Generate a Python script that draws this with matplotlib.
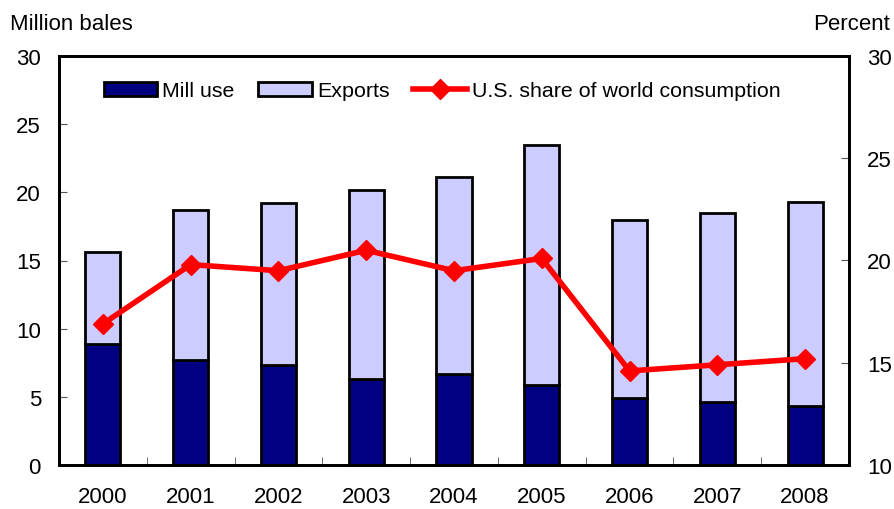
import numpy as np
import matplotlib.pyplot as plt

plt.rcParams['font.family'] = ['Liberation Sans', 'DejaVu Sans']

years = ['2000', '2001', '2002', '2003', '2004', '2005', '2006', '2007', '2008']
mill_use = [8.9, 7.7, 7.3, 6.3, 6.7, 5.9, 4.9, 4.6, 4.3]
total = [15.6, 18.7, 19.2, 20.2, 21.1, 23.5, 18.0, 18.5, 19.3]
exports = [t - m for t, m in zip(total, mill_use)]
us_share = [16.9, 19.8, 19.5, 20.5, 19.5, 20.1, 14.6, 14.9, 15.2]

fs = 16

fig = plt.figure(figsize=(8.95, 5.1), dpi=100)
ax = fig.add_axes([59 / 895, 1 - 466 / 510, 790 / 895, 409 / 510])
x = np.arange(len(years))

b1 = ax.bar(x, mill_use, width=0.4, color='#000080', edgecolor='black', linewidth=2,
            label='Mill use', zorder=2)
b2 = ax.bar(x, exports, width=0.4, bottom=mill_use, color='#ccccff', edgecolor='black',
            linewidth=2, label='Exports', zorder=2)
ax.set_xlim(-0.5, len(years) - 0.5)
ax.set_ylim(0, 30)
ax.set_yticks(range(0, 31, 5))
ax.set_xticks(x)
ax.set_xticklabels(years)
ax.set_xticks(np.arange(0.5, len(years) - 1, 1), minor=True)
ax.tick_params(axis='x', which='major', length=0, pad=15, labelsize=fs)
ax.tick_params(axis='x', which='minor', direction='in', length=6, color='#555555')
ax.tick_params(axis='y', direction='in', length=6, labelsize=fs, pad=13, color='#555555')
for s in ax.spines.values():
    s.set_linewidth(2)

ax2 = ax.twinx()
ln, = ax2.plot(x, us_share, color='#ff0000', linewidth=4, marker='D', markersize=10,
               label='U.S. share of world consumption', zorder=3)
ax2.set_ylim(10, 30)
ax2.set_yticks(range(10, 31, 5))
ax2.tick_params(axis='y', direction='in', length=6, labelsize=fs, pad=13, color='#555555')
for s in ax2.spines.values():
    s.set_linewidth(2)

fig.text(10 / 895, 1 - 24 / 510, 'Million bales', fontsize=fs, va='center', ha='left')
fig.text(890 / 895, 1 - 24 / 510, 'Percent', fontsize=fs, va='center', ha='right')

leg = ax2.legend([b1, b2, ln], ['Mill use', 'Exports', 'U.S. share of world consumption'],
                 loc='center', bbox_to_anchor=(0.485, 1 - 35 / 409), ncol=3, frameon=False,
                 fontsize=15.4, handlelength=2.5, handletextpad=0.25, columnspacing=1.1,
                 borderpad=0)

fig.savefig('out.png', dpi=100)
